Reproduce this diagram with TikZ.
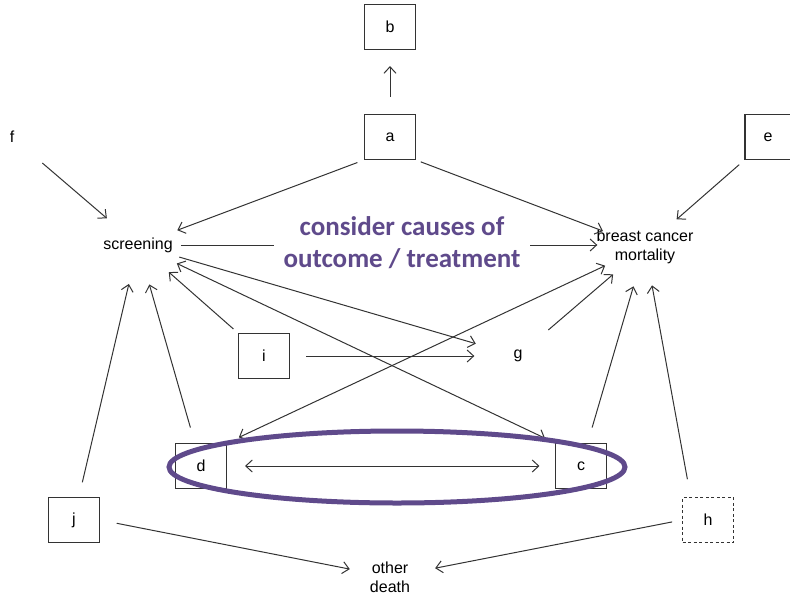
\documentclass[tikz,border=0pt]{standalone}
\usepackage{fontspec}
\setmainfont{Liberation Sans}
\newfontfamily\calloutfont{Carlito}
\usetikzlibrary{arrows.meta}
\definecolor{ink}{HTML}{333333}
\definecolor{callout}{HTML}{5F4A8B}
\begin{document}
\begin{tikzpicture}[x=1pt,y=-1pt,
  every node/.style={font=\fontsize{16}{19}\selectfont, text=black},
  varbox/.style={draw=ink, line width=1.1pt, minimum width=51pt, minimum height=45pt, inner sep=0pt},
  hiddenbox/.style={varbox, dashed, dash pattern=on 3pt off 2.5pt},
  label/.style={inner sep=3pt, align=center},
  arr/.style={draw=ink, line width=1pt, -{Straight Barb[length=6.5pt,width=12pt]}},
  biarr/.style={draw=ink, line width=1pt, {Straight Barb[length=6.5pt,width=12pt]}-{Straight Barb[length=6.5pt,width=12pt]}}
]
\useasboundingbox (0,0) rectangle (790,595);

% variables
\node[varbox] (b) at (390,27) {b};
\node[varbox] (a) at (390,137) {a};
\node[label] (f) at (12,137) {f};
\node[varbox, minimum width=46pt] (e) at (768,137) {e};
\node[label] (scr) at (138,245) {screening};
\node[label] (bcm) at (645,247) {breast cancer\\mortality};
\node[label] (g) at (518,356) {g};
\node[varbox] (i) at (264,356) {i};
\node[varbox] (d) at (201,466) {d};
\node[varbox] (c) at (581,466) {c};
\node[varbox] (j) at (74,520) {j};
\node[hiddenbox] (h) at (708,520) {h};
\node[label] (od) at (390,577) {other\\death};

% causal arrows
\draw[arr, shorten <=17pt, shorten >=16pt] (a.north) -- (b.south);
\draw[arr, shorten <=40pt, shorten >=41pt] (f.center) -- (scr.center);
\draw[arr, shorten <=7pt, shorten >=42pt] (a.south west) -- (scr.center);
\draw[arr, shorten <=5pt, shorten >=45pt] (a.south east) -- (bcm.center);
\draw[arr, shorten <=7pt, shorten >=42pt] (e.south west) -- (bcm.center);
\draw[arr, shorten <=5pt, shorten >=-4pt] (scr.east) -- (scr.east -| bcm.west);
\draw[arr, shorten <=6pt, shorten >=41pt] (i.north west) -- (scr.center);
\draw[arr, shorten <=16pt, shorten >=36pt] (i.east) -- (g.west);
\draw[arr, shorten <=43pt, shorten >=44pt] (scr.center) -- (g.center);
\draw[biarr, shorten <=43pt, shorten >=11pt] (scr.center) -- (c.north west);
\draw[biarr, shorten <=44pt, shorten >=13pt] (bcm.center) -- (d.north east);
\draw[arr, shorten <=40pt, shorten >=42pt] (g.center) -- (bcm.center);
\draw[arr, shorten <=16pt, shorten >=41pt] (d.105) -- (scr.center);
\draw[arr, shorten <=15pt, shorten >=40pt] (j.78) -- (scr.center);
\draw[arr, shorten <=16pt, shorten >=41pt] (c.74) -- (bcm.center);
\draw[arr, shorten <=18pt, shorten >=39pt] (h.127) -- (bcm.center);
\draw[arr, shorten <=17pt, shorten >=41pt] (j.east) -- (od.center);
\draw[arr, shorten <=10pt, shorten >=46pt] (h.west) -- (od.center);
\draw[biarr, shorten <=18pt, shorten >=15.5pt] (d.east) -- (c.west);

% highlighted pair
\draw[callout, line width=5pt] (397,467) ellipse [x radius=228, y radius=36];

% callout text
\node[fill=white, inner xsep=10pt, inner ysep=2pt, align=center,
      font=\calloutfont\bfseries\fontsize{27}{32}\selectfont, text=callout]
  (note) at (402,243) {consider causes of\\outcome / treatment};
\end{tikzpicture}
\end{document}
